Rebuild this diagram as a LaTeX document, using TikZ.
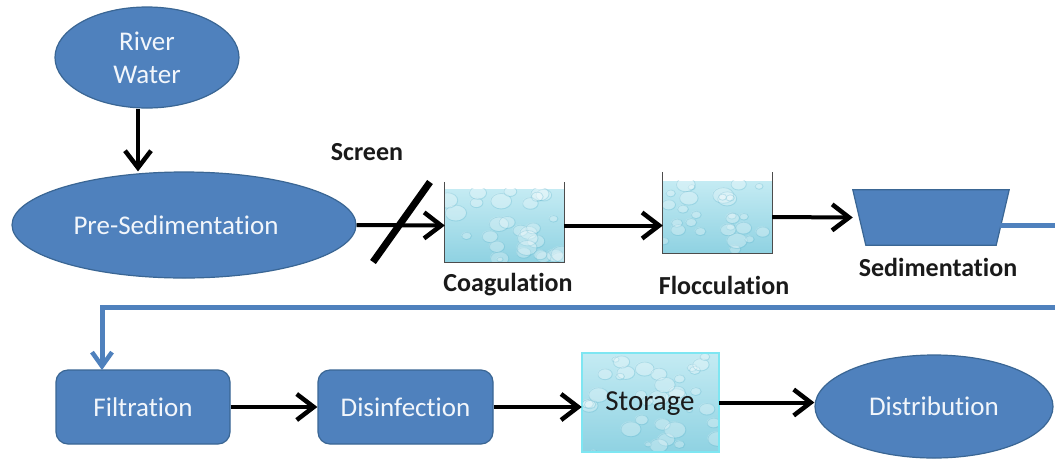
\documentclass[tikz,border=0pt]{standalone}
\usepackage{fontspec}
\setmainfont{Carlito}[Ligatures=NoCommon]
\usetikzlibrary{arrows.meta,shapes.geometric,calc}
\definecolor{obl}{HTML}{4F81BD}
\definecolor{obd}{HTML}{3A6694}
\definecolor{wtop}{HTML}{C4EBF3}
\definecolor{wbot}{HTML}{8FD2E2}
\definecolor{wdark}{HTML}{5FB4CC}
\definecolor{scyan}{HTML}{7EE6F2}
\definecolor{txtw}{HTML}{F2F6FB}
\definecolor{lblc}{HTML}{1A1A1A}
\newcommand\mybubbles[5]{%
  \begin{scope}
    \clip (#1.south west) rectangle (#1.north east);
    \pgfmathsetseed{#2}
    \foreach \k in {1,...,#3}{
      \pgfmathsetmacro\bx{rnd}
      \pgfmathsetmacro\by{rnd}
      \pgfmathsetmacro\br{3+8*rnd}
      \path (#1.north west) ++(\bx*#4,\by*#5) coordinate (bub);
      \fill[white,opacity=0.28] (bub) ellipse ({\br pt} and {0.75*\br pt});
      \draw[wdark,opacity=0.30,line width=0.8pt] ([shift={(0.6,0.6)}]bub) ellipse ({\br pt} and {0.75*\br pt});
    }
  \end{scope}}
\begin{document}
\begin{tikzpicture}[x=1pt,y=-1pt,
  bluefill/.style={fill=obl,draw=obd,line width=1.2pt,text=txtw,font=\fontsize{27}{33}\selectfont},
  oval/.style={bluefill,ellipse,inner sep=0pt},
  rbox/.style={bluefill,rectangle,rounded corners=12pt,inner sep=0pt},
  lbl/.style={font=\fontsize{26}{30}\selectfont\bfseries,text=lblc,inner sep=0pt},
  flow/.style={line width=4pt,-{Straight Barb[length=17pt,width=26pt,line width=4.5pt]}},
  blueflow/.style={draw=obl,line width=5pt,-{Straight Barb[length=14pt,width=20pt,line width=4.5pt]}},
  water/.style={top color=wtop,bottom color=wbot,inner sep=0pt},
  wall/.style={draw=black!70,line width=1.3pt},
]
\useasboundingbox (0,0) rectangle (1055,459);
\fill[white] (0,0) rectangle (1055,459);
\clip (0,0) rectangle (1055,459);

% top row
\node[oval,minimum width=184pt,minimum height=101pt,align=center] (river) at (147,57.5) {River\\Water};
\node[oval,minimum width=344pt,minimum height=106pt] (presed) at (184,225) {\hspace*{-16pt}Pre-Sedimentation};
\draw[flow] ([xshift=-9pt]river.south) -- ([xshift=-9pt]river.south |- presed.north);

\node[lbl] (screenlbl) at (367,152) {Screen};
\coordinate (scrA) at (430,182);
\coordinate (scrB) at (373,262);

\node[water,minimum width=119pt,minimum height=73pt] (coag) at (504.5,225.5) {};
\mybubbles{coag}{3}{30}{119}{73}
\draw[wall] ([yshift=7pt]coag.north west) -- (coag.south west) -- (coag.south east) -- ([yshift=7pt]coag.north east);
\node[lbl] (coaglbl) at (508,285) {Coagulation};

\node[water,minimum width=109pt,minimum height=72pt] (floc) at (717.5,217) {};
\mybubbles{floc}{11}{28}{109}{72}
\draw[wall] ([yshift=9pt]floc.north west) -- (floc.south west) -- (floc.south east) -- ([yshift=9pt]floc.north east);
\node[lbl] (floclbl) at (724,285) {Flocculation};

\node[inner sep=0pt,minimum width=156pt,minimum height=55pt] (sed) at (931,217.5) {};
\draw[fill=obl,draw=obd,line width=1.2pt] (sed.north west) -- (sed.north east) -- ([xshift=-13pt]sed.south east) -- ([xshift=13pt]sed.south west) -- cycle;
\node[lbl] (sedlbl) at (938,267) {Sedimentation};

\draw[flow] (presed.east) -- (coag.west);
\draw[line width=7pt] (scrA) -- (scrB);
\draw[flow] (coag.east) -- (coag.east -| floc.west);
\draw[flow] (floc.east) -- (sed.west);

% bottom row
\node[rbox,minimum width=174pt,minimum height=74pt] (filt) at (143,407) {Filtration};
\node[rbox,minimum width=175pt,minimum height=74pt] (dis) at (405.5,407) {Disinfection};
\node[water,minimum width=137pt,minimum height=99pt] (stor) at (650.5,402.5) {};
\mybubbles{stor}{5}{36}{137}{99}
\draw[scyan,line width=1.5pt] (stor.south west) rectangle (stor.north east);
\node[font=\fontsize{29}{30}\selectfont,text=lblc,inner sep=0pt] (storlbl) at (650,404) {Storage};
\node[oval,minimum width=238pt,minimum height=103pt] (dist) at (934,406.5) {Distribution};

\draw[flow] (filt.east) -- (dis.west);
\draw[flow] (dis.east) -- (dis.east -| stor.west);
\draw[flow] (stor.east) -- (stor.east -| dist.west);

% blue return line
\coordinate (sedout) at (1000,225);
\coordinate (turnA) at (1075,225);
\coordinate (turnB) at (1075,307);
\coordinate (filtin) at (102,370);
\draw[blueflow] (sedout) -- (turnA) -- (turnB) -| (filtin);
\end{tikzpicture}
\end{document}
